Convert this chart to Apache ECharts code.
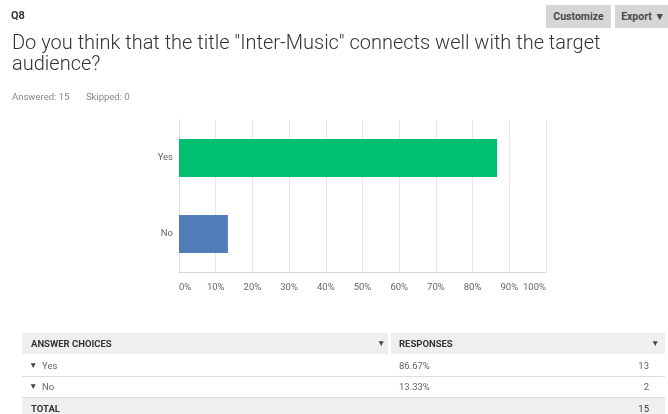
<!DOCTYPE html>
<html>
<head>
<meta charset="utf-8">
<script src="https://cdn.jsdelivr.net/npm/echarts@6/dist/echarts.min.js"></script>
<style>
  html, body { margin: 0; padding: 0; background: #fff; }
  body { width: 668px; height: 414px; overflow: hidden; position: relative; font-family: Roboto, "Noto Sans", sans-serif; }
  #chart { position: absolute; left: 0; top: 0; width: 668px; height: 414px; }
  .abs { position: absolute; white-space: nowrap; }
  #q { left: 11px; top: 9px; font-size: 11px; font-weight: 700; color: #333; }
  .btn { top: 5px; height: 23px; background: #d6d6d6; color: #4a4a4a; font-size: 10.5px; font-weight: 700; line-height: 23px; text-align: center; }
  #title { left: 12px; top: 32px; font-size: 20px; font-weight: 300; color: #333; line-height: 21px; white-space: normal; width: 640px; }
  #meta { left: 12px; top: 91px; font-size: 9.5px; color: #888; }
  .hdr { background: #eef0f0; height: 21px; top: 333px; }
  .th { font-size: 9.5px; font-weight: 700; color: #333; line-height: 21px; }
  .td { font-size: 9.5px; color: #666; line-height: 21px; }
  .caret { font-size: 8.5px; color: #444; line-height: 21px; }
  .sep { height: 1px; background: #dcdcdc; left: 22px; width: 643px; }
</style>
</head>
<body>
<div id="chart"></div>
<script>
// ---- data ----
var questionNo = 'Q8';
var questionText = 'Do you think that the title "Inter-Music" connects well with the target audience?';
var answered = 15;
var skipped = 0;
var categories = ['Yes', 'No'];
var percents = [86.67, 13.33];
var counts = [13, 2];
var total = 15;
var barColors = ['#00bf6f', '#507cb8'];

// ---- chart ----
var chart = echarts.init(document.getElementById('chart'), null, { renderer: 'canvas' });
chart.setOption({
  animation: false,
  backgroundColor: 'transparent',
  grid: { left: 179, top: 120, width: 367, height: 152, containLabel: false },
  xAxis: {
    type: 'value', min: 0, max: 100, interval: 10,
    axisLine: { show: true, lineStyle: { color: '#d9d9d9', width: 1 } },
    axisTick: { show: false },
    splitLine: { show: true, lineStyle: { color: '#e8e8e8', width: 1 } },
    axisLabel: { formatter: '{value}%', color: '#666', fontSize: 9.5, fontFamily: 'Roboto', margin: 11,
                 alignMinLabel: 'left', alignMaxLabel: 'right' }
  },
  yAxis: {
    type: 'category', data: categories, inverse: true,
    axisLine: { show: true, lineStyle: { color: '#e3e3e3', width: 1 } },
    axisTick: { show: false },
    axisLabel: { color: '#666', fontSize: 9.5, fontFamily: 'Roboto', margin: 6 }
  },
  series: [{
    type: 'bar', barWidth: '50%',
    data: percents.map(function (v, i) { return { value: v, itemStyle: { color: barColors[i] } }; })
  }]
});

// ---- header & table (HTML text) ----
function add(cls, id, style, text) {
  var d = document.createElement('div');
  d.className = 'abs ' + cls;
  if (id) d.id = id;
  if (style) d.setAttribute('style', style);
  if (text != null) d.textContent = text;
  document.body.appendChild(d);
  return d;
}
add('', 'q', null, questionNo);
add('btn', null, 'left:546px;width:65px;', 'Customize');
add('btn', null, 'left:615px;width:56px;', 'Export \u25BC');
add('', 'title', null, questionText);
add('', 'meta', null, 'Answered: ' + answered + '\u00A0\u00A0\u00A0\u00A0\u00A0\u00A0\u00A0Skipped: ' + skipped);

add('hdr', null, 'left:22px;width:366px;');
add('hdr', null, 'left:391px;width:274px;');
add('th', null, 'left:31px;top:333px;', 'ANSWER CHOICES');
add('caret', null, 'left:377px;top:333px;', '\u25BC');
add('th', null, 'left:399px;top:333px;', 'RESPONSES');
add('caret', null, 'left:651px;top:333px;', '\u25BC');

var rowTop = 355;
categories.forEach(function (c, i) {
  var t = rowTop + i * 21;
  add('caret', null, 'left:29px;top:' + t + 'px;', '\u25BC');
  add('td', null, 'left:42px;top:' + t + 'px;', c);
  add('td', null, 'left:399px;top:' + t + 'px;', percents[i].toFixed(2) + '%');
  add('td', null, 'right:' + (668 - 649) + 'px;top:' + t + 'px;', String(counts[i]));
  add('sep', null, 'top:' + (t + 21) + 'px;');
});
add('hdr', null, 'left:22px;width:643px;top:398px;height:20px;');
add('th', null, 'left:31px;top:398px;', 'TOTAL');
add('th', null, 'right:' + (668 - 649) + 'px;top:398px;font-weight:400;color:#333;', String(total));
</script>
</body>
</html>
